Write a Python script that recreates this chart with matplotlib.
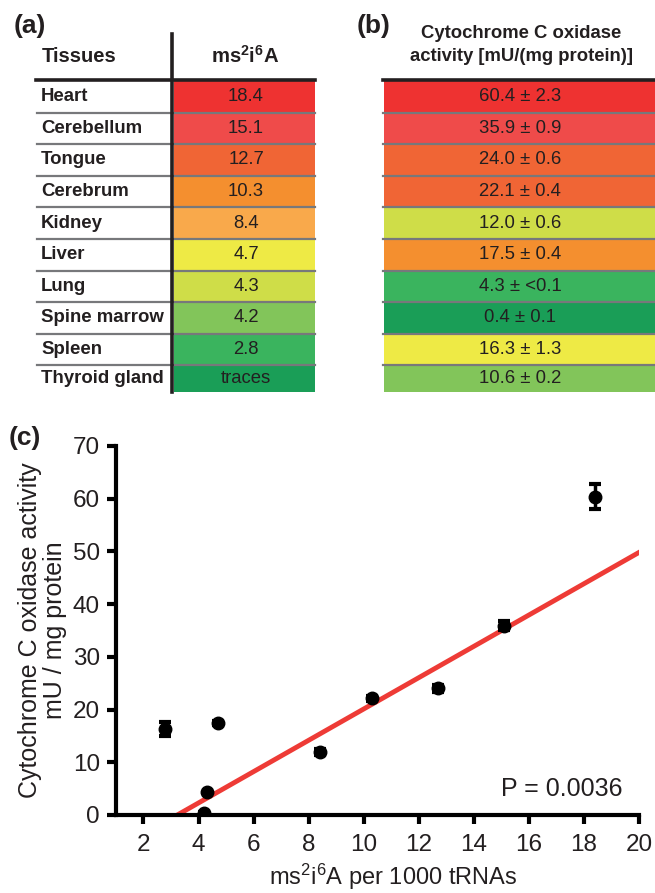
import matplotlib
matplotlib.use("Agg")
import matplotlib.pyplot as plt
import numpy as np
from matplotlib.patches import Rectangle

plt.rcParams["font.family"] = ["Liberation Sans", "DejaVu Sans"]
plt.rcParams["mathtext.fontset"] = "custom"
plt.rcParams["mathtext.rm"] = "Liberation Sans"
plt.rcParams["mathtext.it"] = "Liberation Sans:italic"
plt.rcParams["mathtext.bf"] = "Liberation Sans:bold"

# table data
tissues = ["Heart", "Cerebellum", "Tongue", "Cerebrum", "Kidney", "Liver",
           "Lung", "Spine marrow", "Spleen", "Thyroid gland"]
ms2i6a_text = ["18.4", "15.1", "12.7", "10.3", "8.4", "4.7", "4.3", "4.2", "2.8", "traces"]
ms2i6a = [18.4, 15.1, 12.7, 10.3, 8.4, 4.7, 4.3, 4.2, 2.8, np.nan]
cox_mean = [60.4, 35.9, 24.0, 22.1, 12.0, 17.5, 4.3, 0.4, 16.3, 10.6]
cox_err = [2.3, 0.9, 0.6, 0.4, 0.6, 0.4, 0.1, 0.1, 1.3, 0.2]
cox_err_text = ["2.3", "0.9", "0.6", "0.4", "0.6", "0.4", "<0.1", "0.1", "1.3", "0.2"]
colors_a = ["#EE3231", "#EF4B4A", "#F06535", "#F48F2F", "#F9A94B", "#EEEA45",
            "#CFDD48", "#82C55A", "#3AB45E", "#1A9E57"]
colors_b = ["#EE3231", "#EF4B4A", "#F06535", "#F06535", "#CFDD48", "#F48F2F",
            "#3AB45E", "#1A9E57", "#EEEA45", "#82C55A"]

# regression line
fit_slope = 2.97
fit_intercept = -9.6
p_text = "P = 0.0036"

fig = plt.figure(figsize=(6.55, 8.93), dpi=100)

# ---- tables (pixel coordinates) ----
tab = fig.add_axes([0, 0, 1, 1])
tab.set_xlim(0, 655)
tab.set_ylim(893, 0)
tab.axis("off")

row_top = 81
row_h = 31.6
last_bottom = 392
grey = "#77787B"
txt = "#231F20"

for i, name in enumerate(tissues):
    y0 = row_top + i * row_h
    h = row_h if i < len(tissues) - 1 else last_bottom - y0
    tab.add_patch(Rectangle((174, y0), 141, h, color=colors_a[i], lw=0))
    tab.add_patch(Rectangle((384, y0), 271, h, color=colors_b[i], lw=0))
    yc = y0 + h / 2
    tab.text(41, yc, name, fontsize=13.4, fontweight="bold", color=txt,
             ha="left", va="center")
    tab.text(246, yc, ms2i6a_text[i], fontsize=13.3, color=txt,
             ha="center", va="center")
    tab.text(520, yc, f"{cox_mean[i]:.1f} \u00b1 {cox_err_text[i]}", fontsize=13.3,
             color=txt, ha="center", va="center")
    if i > 0:
        tab.plot([37, 315], [y0, y0], color=grey, lw=1.6)
        tab.plot([383, 655], [y0, y0], color=grey, lw=1.6)

# header rules
tab.plot([36, 315], [80, 80], color="#231F20", lw=2.6)
tab.plot([383, 655], [80, 80], color="#231F20", lw=2.6)
tab.plot([172, 172], [34, 392], color="#231F20", lw=2.6)

tab.text(42, 56, "Tissues", fontsize=14.6, fontweight="bold", color=txt,
         ha="left", va="center")
tab.text(245, 56, r"$\mathbf{ms^2i^6A}$", fontsize=14.6, color=txt,
         ha="center", va="center")
tab.text(521, 45, "Cytochrome C oxidase\nactivity [mU/(mg protein)]", fontsize=13.3,
         fontweight="bold", color=txt, ha="center", va="center", linespacing=1.4)

tab.text(14, 26, "(a)", fontsize=19, fontweight="bold", color=txt, ha="left", va="center")
tab.text(357, 26, "(b)", fontsize=19, fontweight="bold", color=txt, ha="left", va="center")
tab.text(9, 438, "(c)", fontsize=19, fontweight="bold", color=txt, ha="left", va="center")

# ---- scatter panel (c) ----
ax = fig.add_axes([0.177, 0.0874, 0.7985, 0.4132])
x = np.array(ms2i6a)
y = np.array(cox_mean)
e = np.array(cox_err)
ok = ~np.isnan(x)

xl = np.linspace(1, 20, 50)
ax.plot(xl, fit_slope * xl + fit_intercept, color="#EE3B36", lw=3.5, zorder=2)
ax.errorbar(x[ok], y[ok], yerr=e[ok], fmt="o", color="black", ms=9,
            elinewidth=2.5, capsize=4.5, capthick=3, zorder=3)

ax.set_xlim(1, 20)
ax.set_ylim(0, 70)
ax.set_xticks(np.arange(2, 21, 2))
ax.set_yticks(np.arange(0, 71, 10))
for s in ["top", "right"]:
    ax.spines[s].set_visible(False)
for s in ["left", "bottom"]:
    ax.spines[s].set_linewidth(3)
ax.tick_params(axis="both", direction="out", length=6.5, width=3, labelsize=17.5,
               labelcolor="#231F20")
ax.tick_params(axis="x", pad=7)
ax.tick_params(axis="y", pad=5)

ax.set_xlabel(r"ms$^{2}$i$^{6}$A per 1000 tRNAs", fontsize=17, color="#231F20")
ax.xaxis.set_label_coords(0.53, -0.128)
ax.set_ylabel("Cytochrome C oxidase activity\nmU / mg protein", fontsize=18,
              color="#231F20", labelpad=4, linespacing=1.05)
ax.text(19.4, 5, p_text, fontsize=18, color="#231F20", ha="right", va="center")

fig.savefig("out.png", dpi=100)
